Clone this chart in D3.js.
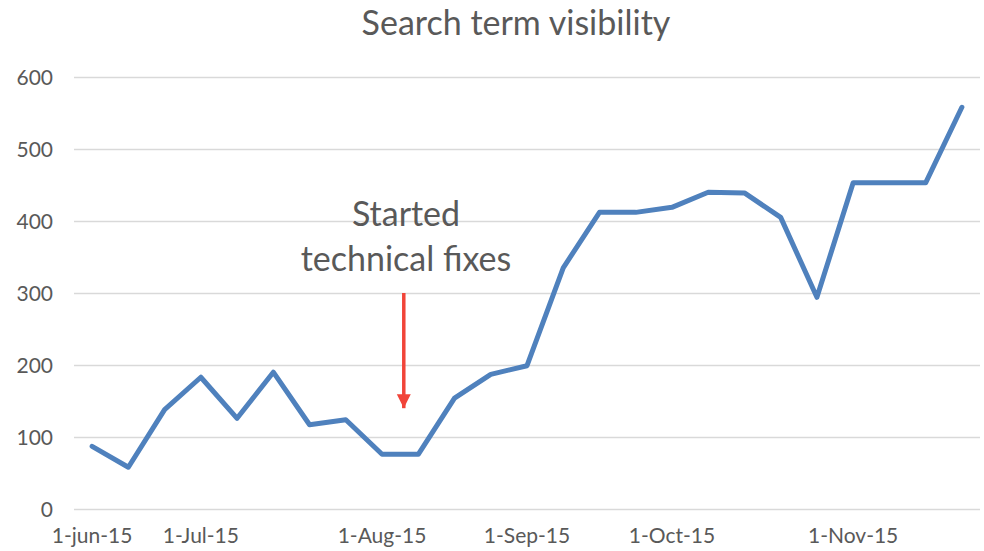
<!DOCTYPE html>
<html>
<head>
<meta charset="utf-8">
<script src="https://cdn.jsdelivr.net/npm/d3@7"></script>
<style>
  body { margin: 0; background: #fff; }
  svg text { font-family: Lato, "Open Sans", sans-serif; fill: #595959; }
</style>
</head>
<body>
<div id="chart"></div>
<script>
// weekly values
const weeks = d3.range(25);
const visibility = [87, 58, 138, 183, 126, 190, 117, 124, 76, 76, 154, 187, 199,
                    335, 412, 412, 419, 440, 439, 405, 294, 453, 453, 453, 558];
// category labels (only some weeks carry one)
const weekLabels = ['1-jun-15', '', '', '1-Jul-15', '', '', '', '', '1-Aug-15', '', '', '',
                    '1-Sep-15', '', '', '', '1-Oct-15', '', '', '', '', '1-Nov-15', '', '', ''];
const yTicks = [0, 100, 200, 300, 400, 500, 600];
const title = 'Search term visibility';
const note = ['Started', 'technical fixes'];
const noteWeek = 8.6;
const noteRange = [300, 140];

const [width, height] = [984, 551];
const margin = { top: 77, right: 4, bottom: 42, left: 74 };

const svg = d3.select('#chart')
    .append('svg')
    .attr('width', width)
    .attr('height', height);

const x = d3.scaleBand()
    .domain(weeks)
    .range([margin.left, width - margin.right]);
const xc = (i) => x(i) + x.bandwidth() / 2;

const y = d3.scaleLinear()
    .domain([0, 600])
    .range([height - margin.bottom, margin.top]);

// title
svg.append('text')
    .attr('x', 516)
    .attr('y', 35)
    .attr('text-anchor', 'middle')
    .style('font-size', '34px')
    .text(title);

// gridlines + y labels
const yAxis = d3.axisLeft(y)
    .tickValues(yTicks)
    .tickSize(-(width - margin.left - margin.right))
    .tickPadding(21);

const gy = svg.append('g')
    .attr('transform', `translate(${margin.left},0)`)
    .call(yAxis);
gy.select('.domain').remove();
gy.selectAll('line').style('stroke', '#d9d9d9').style('stroke-width', 1.5);
gy.selectAll('text').style('font-size', '21px').attr('dy', '0.35em');

// x labels
const xAxis = d3.axisBottom(x)
    .tickSize(0)
    .tickPadding(19)
    .tickFormat((d) => weekLabels[d]);

const gx = svg.append('g')
    .attr('transform', `translate(0,${height - margin.bottom})`)
    .call(xAxis);
gx.select('.domain').remove();
gx.selectAll('text').style('font-size', '21px');

// the series
const line = d3.line()
    .x((d, i) => xc(i))
    .y((d) => y(d));

svg.append('path')
    .datum(visibility)
    .attr('d', line)
    .attr('fill', 'none')
    .attr('stroke', '#4f81bd')
    .attr('stroke-width', 5)
    .attr('stroke-linejoin', 'round')
    .attr('stroke-linecap', 'round');

// annotation
const nx = xc(0) + noteWeek * x.bandwidth();
svg.append('text')
    .attr('x', 406)
    .attr('y', 226)
    .attr('text-anchor', 'middle')
    .style('font-size', '34px')
    .selectAll('tspan')
    .data(note)
    .join('tspan')
    .attr('x', 406)
    .attr('dy', (d, i) => i ? 45 : 0)
    .text((d) => d);

svg.append('defs')
    .append('marker')
    .attr('id', 'head')
    .attr('viewBox', '0 0 10 10')
    .attr('refX', 10)
    .attr('refY', 5)
    .attr('markerWidth', 4)
    .attr('markerHeight', 4.5)
    .attr('markerUnits', 'strokeWidth')
    .attr('orient', 'auto')
    .append('path')
    .attr('d', 'M0,0L10,5L0,10Z')
    .attr('fill', '#f14439');

svg.append('line')
    .attr('x1', nx)
    .attr('x2', nx)
    .attr('y1', y(noteRange[0]))
    .attr('y2', y(noteRange[1]))
    .attr('stroke', '#f14439')
    .attr('stroke-width', 3.5)
    .attr('marker-end', 'url(#head)');
</script>
</body>
</html>
